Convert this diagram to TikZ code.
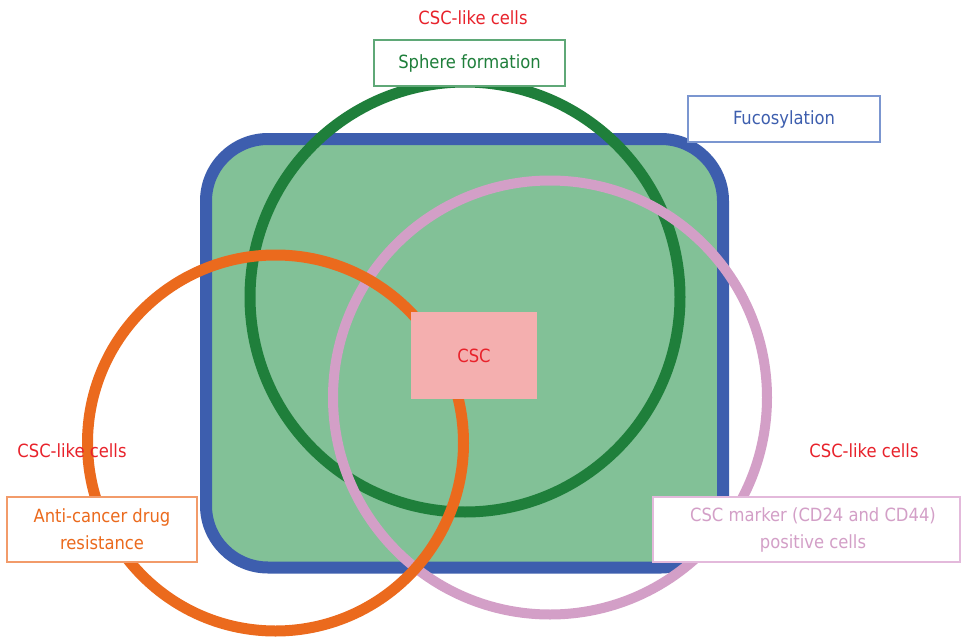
\documentclass[tikz,border=0pt]{standalone}
\usepackage{fontspec}
\setmainfont{DejaVu Sans Condensed}
\definecolor{blueline}{HTML}{3D5EAE}
\definecolor{greenfill}{HTML}{82C197}
\definecolor{darkgreen}{HTML}{1F7F3B}
\definecolor{pinkc}{HTML}{D39FC7}
\definecolor{orangec}{HTML}{EB6A1D}
\definecolor{cscfill}{HTML}{F4AFAF}
\definecolor{redtxt}{HTML}{E8222B}
\definecolor{greenborder}{HTML}{5FA877}
\definecolor{blueborder}{HTML}{7B96D0}
\definecolor{orangeborder}{HTML}{F29B6A}
\definecolor{pinkborder}{HTML}{E3B9DB}
\tikzset{
  lbl/.style={font=\fontsize{18.2}{27}\selectfont, inner sep=0pt, align=center},
  labelbox/.style={lbl, fill=white, line width=1.3pt},
  ring/.style={line width=11pt},
  likecells/.style={lbl, text=redtxt}
}
\begin{document}
\begin{tikzpicture}[x=1pt,y=-1pt]
\useasboundingbox[fill=white] (0,0) rectangle (961,642);
% blue rounded rectangle
\draw[line width=12pt, draw=blueline, fill=greenfill, rounded corners=62pt] (206,139) rectangle (723,567.5);
% circles
\draw[ring, draw=darkgreen] (465,297) circle [radius=215];
\draw[ring, draw=pinkc, line width=10pt] (550,397.5) circle [radius=217];
\draw[ring, draw=orangec] (275.5,443) circle [radius=188];
% CSC box
\node[lbl, fill=cscfill, text=redtxt, minimum width=126pt, minimum height=87pt] (csc) at (474,355.5) {CSC};
% label boxes
\node[labelbox, draw=greenborder, text=darkgreen, minimum width=191pt, minimum height=46pt] (sphere) at (469.5,63) {Sphere formation};
\node[labelbox, draw=blueborder, text=blueline, minimum width=192pt, minimum height=46pt] (fuco) at (784,119) {Fucosylation};
\node[labelbox, draw=orangeborder, text=orangec, minimum width=190pt, minimum height=65pt] (anti) at (102,529.5) {Anti-cancer drug\\resistance};
\node[labelbox, draw=pinkborder, minimum width=307pt, minimum height=65pt] (marker) at (806.5,529.5) {};
\node[lbl, text=pinkc] (markertxt) at (813,529.5) {CSC marker (CD24 and CD44)\\positive cells};
% CSC-like cells labels
\node[likecells] (liketop) at (473,18) {CSC-like cells};
\node[likecells] (likeleft) at (72,451) {CSC-like cells};
\node[likecells] (likeright) at (864,451) {CSC-like cells};
\end{tikzpicture}
\end{document}
